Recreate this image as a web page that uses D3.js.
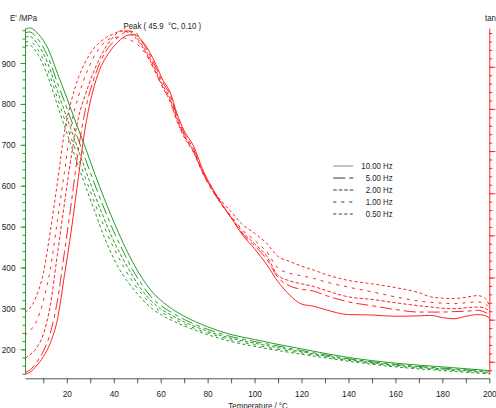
<!DOCTYPE html>
<html><head><meta charset="utf-8">
<script src="https://cdn.jsdelivr.net/npm/d3@7"></script>
<style>
html,body{margin:0;padding:0;background:#fff;}
svg{display:block;}
text{font-family:"Liberation Sans Narrow","Arial Narrow","Liberation Sans",Arial,sans-serif;font-size:9px;fill:#222;}
</style>
</head><body>
<svg id="chart" width="496" height="408"></svg>
<script>
// ---------- data ----------
const frequencies = ["10.00 Hz", "5.00 Hz", "2.00 Hz", "1.00 Hz", "0.50 Hz"];

// storage modulus E' (MPa)
const tempE = [2.2, 4, 8, 12, 16, 20, 24, 28, 32, 36, 40, 44, 48, 52, 56, 60, 65, 70, 75, 80, 90, 100, 110, 120, 140, 160, 180, 200];
const modulus10 = [980, 986, 970, 935, 875, 815, 752, 692, 628, 568, 512, 460, 414, 375, 343, 320, 298, 281, 267, 255, 236, 224, 212, 201, 180, 166, 157, 148];
const modulus5  = [973, 976, 956, 915, 852, 790, 727, 664, 602, 543, 488, 440, 395, 358, 328, 307, 289, 273, 260, 249, 231, 219, 208, 197, 177, 163, 154, 146];
const modulus2  = [963, 965, 943, 898, 832, 767, 702, 638, 576, 518, 465, 420, 380, 345, 318, 299, 282, 267, 255, 244, 227, 215, 204, 194, 175, 161, 152, 144];
const modulus1  = [951, 953, 930, 882, 814, 747, 682, 618, 556, 499, 448, 404, 366, 335, 310, 292, 276, 262, 250, 240, 223, 211, 200, 191, 173, 159, 150, 142];
const modulus05 = [941, 943, 918, 866, 797, 729, 663, 598, 536, 474, 422, 381, 350, 323, 301, 285, 270, 257, 246, 236, 219, 207, 197, 188, 171, 157, 148, 140];

// loss factor tan delta
const tempTan = [2.2, 4, 7, 10, 13, 16, 19, 22, 25, 28, 31, 34, 37, 40, 43, 46, 49, 52, 55, 58, 61, 64, 67, 70, 74, 78, 82, 86, 90, 95, 100, 105, 110, 115, 120, 125, 130, 140, 150, 160, 170, 175, 180, 185, 190, 195, 198, 200];
const tan10 = [0.0171, 0.0174, 0.0190, 0.0212, 0.0245, 0.0300, 0.0405, 0.0515, 0.0640, 0.0760, 0.0840, 0.0893, 0.0925, 0.0948, 0.0965, 0.0975, 0.0976, 0.0962, 0.0938, 0.0905, 0.0868, 0.0840, 0.0788, 0.0748, 0.0712, 0.0655, 0.0612, 0.0575, 0.0542, 0.0500, 0.0468, 0.0432, 0.0390, 0.0358, 0.0337, 0.0332, 0.0324, 0.0312, 0.0311, 0.0308, 0.0309, 0.0310, 0.0305, 0.0302, 0.0308, 0.0312, 0.0310, 0.0304];
const tan5  = [0.0175, 0.0179, 0.0198, 0.0225, 0.0268, 0.0345, 0.0460, 0.0580, 0.0705, 0.0800, 0.0862, 0.0908, 0.0940, 0.0960, 0.0975, 0.0985, 0.0982, 0.0960, 0.0932, 0.0898, 0.0862, 0.0833, 0.0782, 0.0742, 0.0705, 0.0650, 0.0608, 0.0573, 0.0542, 0.0503, 0.0475, 0.0445, 0.0400, 0.0380, 0.0372, 0.0368, 0.0358, 0.0342, 0.0333, 0.0324, 0.0318, 0.0318, 0.0318, 0.0319, 0.0320, 0.0322, 0.0318, 0.0312];
const tan2  = [0.0208, 0.0215, 0.0232, 0.0265, 0.0335, 0.0455, 0.0575, 0.0690, 0.0780, 0.0835, 0.0882, 0.0920, 0.0950, 0.0972, 0.0985, 0.0985, 0.0975, 0.0952, 0.0925, 0.0890, 0.0855, 0.0825, 0.0776, 0.0738, 0.0700, 0.0648, 0.0607, 0.0573, 0.0543, 0.0507, 0.0480, 0.0452, 0.0405, 0.0392, 0.0385, 0.0379, 0.0370, 0.0354, 0.0348, 0.0340, 0.0333, 0.0330, 0.0327, 0.0326, 0.0328, 0.0330, 0.0328, 0.0320];
const tan1  = [0.0263, 0.0272, 0.0295, 0.0345, 0.0420, 0.0535, 0.0650, 0.0765, 0.0830, 0.0880, 0.0918, 0.0945, 0.0962, 0.0970, 0.0970, 0.0965, 0.0958, 0.0942, 0.0918, 0.0884, 0.0850, 0.0820, 0.0772, 0.0735, 0.0698, 0.0646, 0.0606, 0.0574, 0.0546, 0.0512, 0.0488, 0.0462, 0.0422, 0.0410, 0.0404, 0.0398, 0.0390, 0.0377, 0.0366, 0.0354, 0.0344, 0.0341, 0.0339, 0.0338, 0.0340, 0.0342, 0.0338, 0.0328];
const tan05 = [0.0318, 0.0325, 0.0355, 0.0410, 0.0510, 0.0625, 0.0745, 0.0820, 0.0875, 0.0912, 0.0940, 0.0958, 0.0970, 0.0978, 0.0985, 0.0982, 0.0970, 0.0948, 0.0920, 0.0885, 0.0850, 0.0818, 0.0770, 0.0733, 0.0697, 0.0648, 0.0610, 0.0580, 0.0556, 0.0525, 0.0505, 0.0482, 0.0450, 0.0438, 0.0427, 0.0418, 0.0408, 0.0393, 0.0385, 0.0376, 0.0364, 0.0354, 0.0351, 0.0350, 0.0353, 0.0357, 0.0352, 0.0334];

const tempTicks = [20, 40, 60, 80, 100, 120, 140, 160, 180, 200];
const tempMinorTicks = [10, 20, 30, 40, 50, 60, 70, 80, 90, 100, 110, 120, 130, 140, 150, 160, 170, 180, 190, 200];
const modulusTicks = [200, 300, 400, 500, 600, 700, 800, 900];
const tanMajorTicks = [0.02, 0.03, 0.04, 0.05, 0.06, 0.07, 0.08, 0.09];
const peakLabel = "Peak ( 45.9  \u00B0C, 0.10 )";

// ---------- styles ----------
const GREEN = "#2a9a2a", RED = "#ff2424", AXIS = "#555";
const dashes = ["none", "12,4,4,4", "3.5,2", "3,5", "3,2.5"];
const TEXT_SQUEEZE = 0.87;

const svg = d3.select("#chart");
const x  = d3.scaleLinear().domain([2.2, 200]).range([25, 489.3]);
const yE = d3.scaleLinear().domain([139.6, 985.6]).range([374, 28]);
const yT = d3.scaleLinear().domain([0.0171, 0.0992]).range([374, 28]);

const modulusSeries = [modulus10, modulus5, modulus2, modulus1, modulus05];
const tanSeries = [tan10, tan5, tan2, tan1, tan05];

const eMinor = d3.range(140, 986, 20);
const tMinor = d3.range(0.018, 0.0992, 0.002);

// ---------- axes ----------
const gL = svg.append("g").attr("transform", "translate(25,0)");
gL.call(d3.axisLeft(yE).tickValues(eMinor).tickSize(2.5).tickSizeOuter(0).tickFormat(""));
gL.selectAll("path,line").attr("stroke", GREEN);
const gL2 = svg.append("g").attr("transform", "translate(25,0)");
gL2.call(d3.axisLeft(yE).tickValues(modulusTicks).tickSize(4.5).tickSizeOuter(0).tickPadding(5).tickFormat(d3.format("d")));
gL2.select(".domain").remove();
gL2.selectAll("line").attr("stroke", GREEN);
gL2.selectAll("text").attr("fill", "#222").style("font-size", "9.5px");

const gR = svg.append("g").attr("transform", "translate(489.3,0)");
gR.call(d3.axisRight(yT).tickValues(tMinor).tickSize(3).tickSizeOuter(0).tickFormat(""));
gR.selectAll("path,line").attr("stroke", RED);
const gR2 = svg.append("g").attr("transform", "translate(489.3,0)");
gR2.call(d3.axisRight(yT).tickValues(tanMajorTicks).tickSize(6).tickSizeOuter(0).tickFormat(""));
gR2.select(".domain").remove();
gR2.selectAll("line").attr("stroke", RED);

const gB = svg.append("g").attr("transform", "translate(0,378.3)");
gB.call(d3.axisBottom(x).tickValues(tempMinorTicks).tickSize(5).tickSizeOuter(0).tickPadding(7)
  .tickFormat(d => tempTicks.includes(d) ? d : ""));
gB.selectAll("path,line").attr("stroke", AXIS);
gB.selectAll("text").attr("fill", "#222").style("font-size", "9.5px");

// ---------- curves ----------
const lineE = d3.line().x((d, i) => x(tempE[i])).y(d => yE(d)).curve(d3.curveMonotoneX);
const lineT = d3.line().x((d, i) => x(tempTan[i])).y(d => yT(d)).curve(d3.curveMonotoneX);

svg.append("g").selectAll("path").data(modulusSeries).join("path")
  .attr("d", d => lineE(d)).attr("fill", "none").attr("stroke", GREEN)
  .attr("stroke-width", 1).attr("stroke-dasharray", (d, i) => dashes[i]);

svg.append("g").selectAll("path").data(tanSeries).join("path")
  .attr("d", d => lineT(d)).attr("fill", "none").attr("stroke", RED)
  .attr("stroke-width", 1).attr("stroke-dasharray", (d, i) => dashes[i]);

// ---------- texts ----------
svg.append("text").attr("x", 10).attr("y", 20.5).text("E' /MPa");
svg.append("text").attr("x", 485).attr("y", 20.5).text("tan");
svg.append("text").attr("x", 123.5).attr("y", 29).attr("xml:space", "preserve")
  .style("white-space", "pre").text(peakLabel);
svg.append("text").attr("x", 258).attr("y", 409).attr("text-anchor", "middle")
  .text("Temperature / \u00B0C");

// ---------- legend ----------
const leg = svg.append("g");
frequencies.forEach((f, i) => {
  const yy = 166 + i * 12;
  leg.append("line").attr("x1", 333.3).attr("x2", 353.3).attr("y1", yy).attr("y2", yy)
    .attr("stroke", i === 0 ? "#888" : "#333").attr("stroke-width", 1)
    .attr("stroke-dasharray", dashes[i]);
  leg.append("text").attr("x", 392.7).attr("y", yy + 3.2).attr("text-anchor", "end").text(f);
});

// narrow the sans face to match the condensed lettering of the original
svg.selectAll("text").each(function () {
  const t = this.textContent;
  if (!t) return;
  const w = this.getComputedTextLength();
  if (w > 0) d3.select(this).attr("textLength", w * TEXT_SQUEEZE).attr("lengthAdjust", "spacingAndGlyphs");
});
</script>
</body></html>
